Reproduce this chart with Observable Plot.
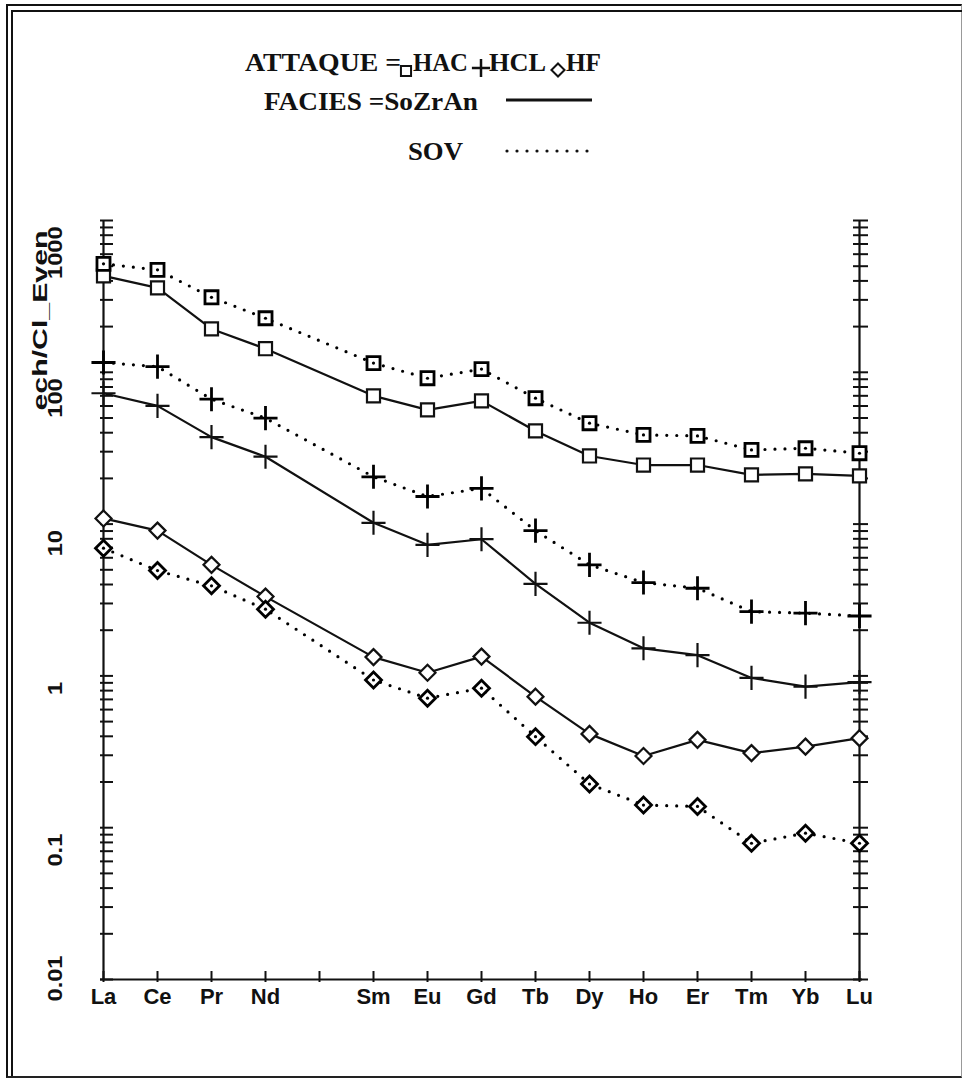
<!DOCTYPE html>
<html>
<head>
<meta charset="utf-8">
<script src="https://cdn.jsdelivr.net/npm/d3@7"></script>
<script src="https://cdn.jsdelivr.net/npm/@observablehq/plot@0.6"></script>
<style>
  html, body { margin: 0; padding: 0; background: #fff; }
  #page { position: relative; width: 962px; height: 1078px; overflow: hidden; background: #fff; }
  #frameOuter { position: absolute; box-sizing: border-box; left: 6px; top: 4px; width: 956px; height: 1074px;
    border-top: 2px solid #111; border-left: 2px solid #111; border-right: 1px solid #999; border-bottom: 2px solid #222; }
  #frameInner { position: absolute; box-sizing: border-box; left: 11px; top: 10px; width: 951px; height: 1066px;
    border-top: 2px solid #111; border-left: 2px solid #111; }
  #legend { position: absolute; left: 0; top: 0; }
  #chart { position: absolute; left: 0; top: 195px; }
</style>
</head>
<body>
<div id="page">
  <div id="frameOuter"></div>
  <div id="frameInner"></div>
  <div id="legend"></div>
  <div id="chart"></div>
</div>
<script>
// ---- data ----
const elements = ["La","Ce","Pr","Nd","Pm","Sm","Eu","Gd","Tb","Dy","Ho","Er","Tm","Yb","Lu"];
const measured = ["La","Ce","Pr","Nd","Sm","Eu","Gd","Tb","Dy","Ho","Er","Tm","Yb","Lu"];
const attaques = ["HAC","HCL","HF"];
const facies = ["SoZrAn","SOV"];

const hacSoZrAn = [432, 360, 193, 143, 70, 56.5, 64.8, 41.1, 28.1, 24.5, 24.5, 21.1, 21.4, 20.8];
const hacSOV    = [518, 473, 312, 227, 115, 91.4, 105, 67.5, 46.2, 38.7, 38.1, 30.8, 31.6, 29.3];
const hclSoZrAn = [72.8, 60.1, 37.4, 27.8, 10.2, 7.3, 7.95, 4.04, 2.24, 1.52, 1.37, 0.97, 0.85, 0.91];
const hclSOV    = [116, 109, 66.5, 49.9, 20.5, 15.2, 17.2, 9.06, 5.39, 4.12, 3.78, 2.65, 2.59, 2.48];
const hfSoZrAn  = [10.9, 9.06, 5.39, 3.33, 1.33, 1.05, 1.34, 0.73, 0.415, 0.297, 0.379, 0.31, 0.342, 0.389];
const hfSOV     = [6.94, 4.94, 3.92, 2.75, 0.94, 0.713, 0.83, 0.398, 0.194, 0.141, 0.138, 0.079, 0.092, 0.079];

const yDomain = [0.01, 1000];
const decades = [0.01, 0.1, 1, 10, 100, 1000];
const decadeLabels = ["0.01", "0.1", "1", "10", "100", "1000"];
const yTitle = "ech/Cl_Even";

// ---- table ----
const seriesList = [
  {attaque: "HAC", facies: "SoZrAn", values: hacSoZrAn},
  {attaque: "HAC", facies: "SOV", values: hacSOV},
  {attaque: "HCL", facies: "SoZrAn", values: hclSoZrAn},
  {attaque: "HCL", facies: "SOV", values: hclSOV},
  {attaque: "HF", facies: "SoZrAn", values: hfSoZrAn},
  {attaque: "HF", facies: "SOV", values: hfSOV}
];
const rows = seriesList.flatMap(s => s.values.map((v, i) => ({element: measured[i], value: v, attaque: s.attaque, facies: s.facies})));
const solid = rows.filter(d => d.facies === "SoZrAn");
const dotted = rows.filter(d => d.facies === "SOV");
const minorTicks = decades.slice(0, -1).flatMap(d => d3.range(1, 10).map(k => +(d * k).toPrecision(3))).concat([decades[decades.length - 1]]);
const labelRows = decades.map((d, i) => ({value: d, label: decadeLabels[i]}));

const sans = "'Liberation Sans', Arial, Helvetica, sans-serif";
const symbolOf = {HAC: "square2", HCL: "plus", HF: "diamond2"};
const sizeOf = {HAC: 8.3, HCL: 7.8, HF: 7.2};

const markerMarks = attaques.flatMap(a => [
  Plot.dot(solid.filter(d => d.attaque === a), {x: "element", y: "value", symbol: () => symbolOf[a], r: sizeOf[a],
    stroke: "#111", strokeWidth: 2.2, fill: a === "HCL" ? "none" : "white"}),
  Plot.dot(dotted.filter(d => d.attaque === a), {x: "element", y: "value", symbol: () => symbolOf[a], r: sizeOf[a],
    stroke: "#000", strokeWidth: 2.8, fill: a === "HCL" ? "none" : "white"})
]);

const chart = Plot.plot({
  width: 962,
  height: 845,
  marginTop: 25,
  marginBottom: 61,
  marginLeft: 100,
  marginRight: 100,
  style: {fontFamily: sans, fontWeight: "bold", fontSize: "22px", color: "#111", background: "transparent"},
  x: {type: "point", domain: elements, padding: 0, label: null},
  y: {type: "log", domain: yDomain, label: null},
  symbol: {type: "identity"},
  marks: [
    // axis lines
    Plot.ruleX([elements[0], elements[elements.length - 1]], {stroke: "#111", strokeWidth: 2.2}),
    Plot.ruleY([yDomain[0]], {stroke: "#111", strokeWidth: 2.2}),
    // x ticks and labels
    Plot.axisX({anchor: "bottom", tickSize: -8, tickFormat: () => "", strokeWidth: 2}),
    Plot.axisX({anchor: "bottom", tickSize: 3, tickPadding: 6, strokeWidth: 2, fontSize: 22, fontWeight: "bold",
      tickFormat: d => measured.includes(d) ? d : ""}),
    // y ticks (left inward, right crossing)
    Plot.axisY({anchor: "left", ticks: minorTicks, tickSize: -13, tickFormat: () => "", strokeWidth: 2}),
    Plot.axisY({anchor: "right", ticks: minorTicks, tickSize: -10, tickFormat: () => "", strokeWidth: 2}),
    Plot.axisY({anchor: "right", ticks: minorTicks, tickSize: 5, tickFormat: () => "", strokeWidth: 2}),
    // y decade labels
    Plot.text(labelRows.slice(1), {y: "value", text: "label", frameAnchor: "left", dx: -45, dy: 6, rotate: -90,
      textAnchor: "end", fontSize: 20, fontWeight: "bold", fill: "#111"}),
    Plot.text(labelRows.slice(0, 1), {y: "value", text: "label", frameAnchor: "left", dx: -45, dy: -24, rotate: -90,
      textAnchor: "end", fontSize: 20, fontWeight: "bold", fill: "#111"}),
    // y title
    Plot.text([yTitle], {text: d => d, frameAnchor: "top-left", dx: -68, dy: 100, rotate: -90,
      textAnchor: "middle", fontSize: 20, fontWeight: "bold", fill: "#111"}),
    // lines
    Plot.line(solid, {x: "element", y: "value", z: "attaque", stroke: "#111", strokeWidth: 2.2}),
    Plot.line(dotted, {x: "element", y: "value", z: "attaque", stroke: "#000", strokeWidth: 3.2,
      strokeDasharray: "0,10", strokeLinecap: "round"}),
    // markers
    ...markerMarks,
    Plot.dot(dotted.filter(d => d.attaque !== "HCL"), {x: "element", y: "value", r: 1.6, fill: "#000"})
  ]
});
document.getElementById("chart").appendChild(chart);

// stretch the rotated texts along their length like the original
d3.select(chart).selectAll("text").each(function() {
  const t = this.textContent;
  if (t === yTitle) {
    d3.select(this).attr("textLength", 180).attr("lengthAdjust", "spacingAndGlyphs");
  } else if (decadeLabels.includes(t)) {
    const len = this.getComputedTextLength();
    if (len > 0) d3.select(this).attr("textLength", len * 1.18).attr("lengthAdjust", "spacingAndGlyphs");
  }
});

// ---- legend ----
const serif = "'Liberation Serif', 'Times New Roman', Times, serif";
const lg = d3.select("#legend").append("svg").attr("width", 962).attr("height", 190)
  .style("font-family", serif).style("font-weight", "bold").style("font-size", "26px").attr("fill", "#111");
const legendTexts = [
  {t: "ATTAQUE =", x: 245, y: 71, len: 156},
  {t: attaques[0], x: 413, y: 71, len: 55},
  {t: attaques[1], x: 489, y: 71, len: 57},
  {t: attaques[2], x: 566, y: 71, len: 35},
  {t: "FACIES =" + facies[0], x: 264, y: 110, len: 214},
  {t: facies[1], x: 408, y: 160, len: 55}
];
lg.selectAll("text").data(legendTexts).join("text")
  .attr("x", d => d.x).attr("y", d => d.y).attr("textLength", d => d.len).attr("lengthAdjust", "spacingAndGlyphs")
  .text(d => d.t);
lg.append("path").attr("d", d3.symbol(d3.symbolSquare2, 130)).attr("transform", "translate(406,71)")
  .attr("fill", "white").attr("stroke", "#111").attr("stroke-width", 2);
lg.append("path").attr("d", d3.symbol(d3.symbolPlus, 110)).attr("transform", "translate(481,68)")
  .attr("fill", "none").attr("stroke", "#111").attr("stroke-width", 2.5);
lg.append("path").attr("d", d3.symbol(d3.symbolDiamond2, 110)).attr("transform", "translate(558,70)")
  .attr("fill", "white").attr("stroke", "#111").attr("stroke-width", 2);
lg.append("line").attr("x1", 506).attr("x2", 592).attr("y1", 100).attr("y2", 100)
  .attr("stroke", "#111").attr("stroke-width", 3);
lg.append("line").attr("x1", 507).attr("x2", 589).attr("y1", 151).attr("y2", 151)
  .attr("stroke", "#111").attr("stroke-width", 3.2).attr("stroke-dasharray", "0,10").attr("stroke-linecap", "round");
</script>
</body>
</html>
